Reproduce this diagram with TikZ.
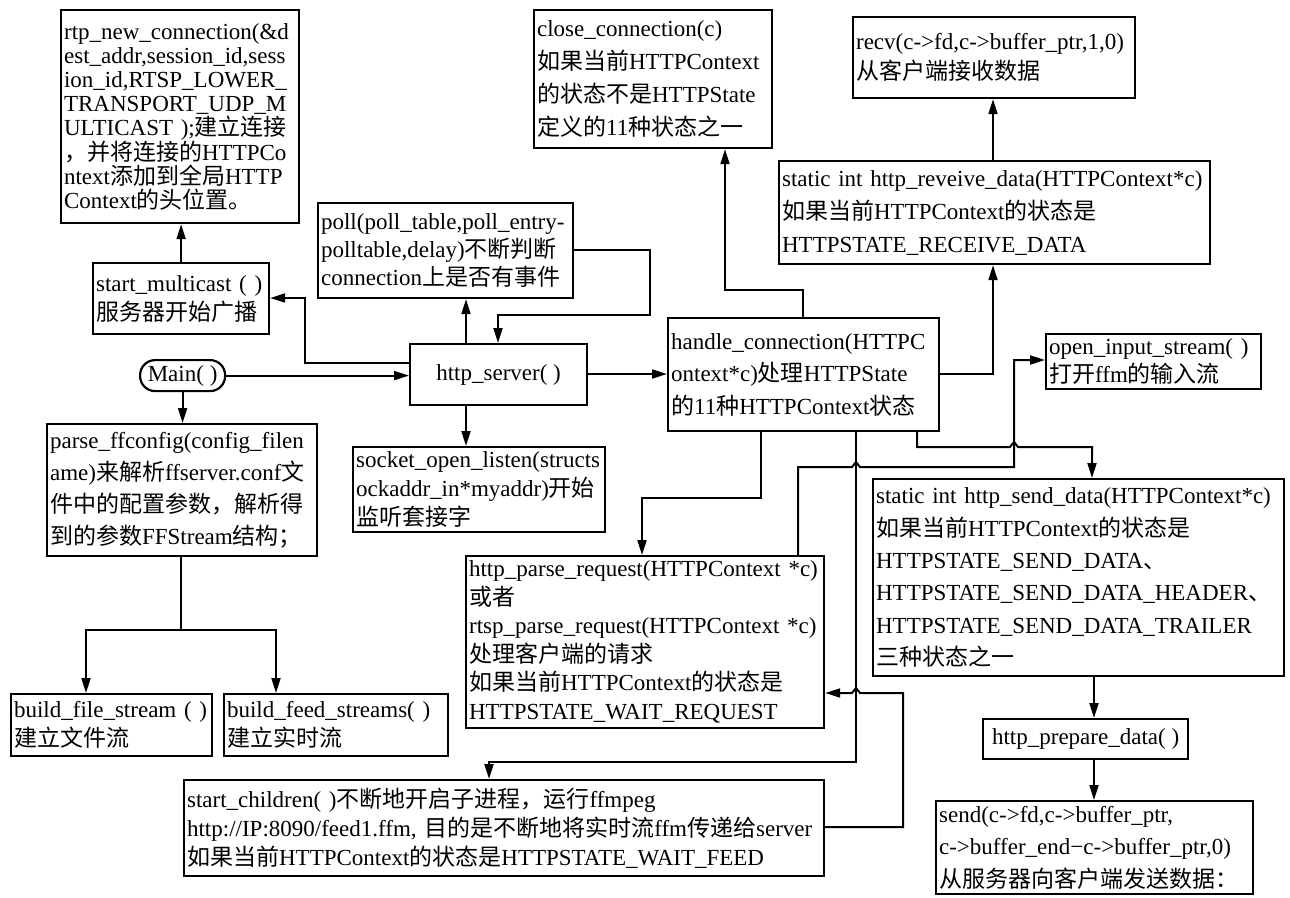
\documentclass[tikz,border=0pt]{standalone}
\usepackage{fontspec}
\setmainfont{Liberation Serif}
\newfontfamily\cjk{Noto Sans CJK SC}
\usetikzlibrary{arrows.meta}
\newcommand\zh[1]{{\cjk #1}}
\newcommand\fs[1]{\fontsize{23}{#1}\selectfont}
\begin{document}
\begin{tikzpicture}[x=1pt,y=-1pt,
 box/.style={draw, line width=2.2pt, anchor=north west, inner xsep=3pt, inner ysep=1pt, align=left},
 cbox/.style={draw, line width=2.2pt, anchor=north west, inner sep=1pt, align=center, font=\fs{24}},
 arr/.style={line width=2pt, -{Triangle[length=15pt,width=9pt]}},
 ln/.style={line width=2pt}]
\fill[white] (0,0) rectangle (1290,897);
\useasboundingbox (0,0) rectangle (1290,897);

% ---------- boxes ----------
\node[box, text width=232pt, minimum height=213pt, font=\fs{24}] (rtp) at (60,9)
 {rtp\_new\_connection(\&d\\est\_addr,session\_id,sess\\ion\_id,RTSP\_LOWER\_\\TRANSPORT\_UDP\_M\\ULTICAST~);\zh{建立连接}\\\zh{，并将连接的}HTTPCo\\ntext\zh{添加到全局}HTTP\\Context\zh{的头位置。}};

\node[box, text width=232pt, minimum height=138pt, font=\fs{33}] (close) at (533,9)
 {close\_connection(c)\\\zh{如果当前}HTTPContext\\\zh{的状态不是}HTTPState\\\zh{定义的}11\zh{种状态之一}};

\node[box, text width=276pt, minimum height=81pt, font=\fs{30}] (recv) at (852,16)
 {recv(c->fd,c->buffer\_ptr,1,0)\\\zh{从客户端接收数据}};

\node[box, text width=425pt, minimum height=103pt, font=\fs{33}] (rcv) at (778,160)
 {static~int~http\_reveive\_data(HTTPContext*c)\\\zh{如果当前}HTTPContext\zh{的状态是}\\HTTPSTATE\_RECEIVE\_DATA};

\node[box, text width=249pt, minimum height=95pt, font=\fs{28}] (poll) at (317,202)
 {poll(poll\_table,poll\_entry-\\polltable,delay)\zh{不断判断}\\connection\zh{上是否有事件}};

\node[box, text width=170pt, minimum height=71pt, font=\fs{29}] (smc) at (92,262)
 {start\_multicast~(~)\\\zh{服务器开始广播}};

\node[cbox, rounded corners=15pt, minimum width=85pt, minimum height=31pt] (main) at (139,359) {Main(~)};

\node[cbox, minimum width=177pt, minimum height=61pt] (srv) at (409,343) {http\_server(~)};

\node[box, text width=265pt, minimum height=113pt, font=\fs{32.5}] (hc) at (667,317)
 {handle\_connection(HTTPC\\ontext*c)\zh{处理}HTTPState\\\zh{的}11\zh{种}HTTPContext\zh{状态}};

\node[box, text width=209pt, minimum height=55pt, font=\fs{28}] (open) at (1045,333)
 {open\_input\_stream(~)\\\zh{打开}ffm\zh{的输入流}};

\node[box, text width=264pt, minimum height=132pt, font=\fs{32}] (parse) at (46,423)
 {parse\_ffconfig(config\_filen\\ame)\zh{来解析}ffserver.conf\zh{文}\\\zh{件中的配置参数，解析得}\\\zh{到的参数}FFStream\zh{结构；}};

\node[box, text width=246pt, minimum height=85pt, font=\fs{29}] (sock) at (352,446)
 {socket\_open\_listen(structs\\ockaddr\_in*myaddr)\zh{开始}\\\zh{监听套接字}};

\node[box, text width=195pt, minimum height=62pt, font=\fs{29}] (bfile) at (10,693)
 {build\_file\_stream~(~)\\\zh{建立文件流}};

\node[box, text width=218pt, minimum height=62pt, font=\fs{29}] (bfeed) at (223,693)
 {build\_feed\_streams(~)\\\zh{建立实时流}};

\node[box, text width=352pt, minimum height=172pt, font=\fs{28.5}] (hpr) at (465,555)
 {http\_parse\_request(HTTPContext~*c)\\\zh{或者}\\rtsp\_parse\_request(HTTPContext~*c)\\\zh{处理客户端的请求}\\\zh{如果当前}HTTPContext\zh{的状态是}\\HTTPSTATE\_WAIT\_REQUEST};

\node[box, text width=405pt, minimum height=197pt, font=\fs{32.3}] (hsd) at (872,478)
 {static~int~http\_send\_data(HTTPContext*c)\\\zh{如果当前}HTTPContext\zh{的状态是}\\HTTPSTATE\_SEND\_DATA\zh{、}\\HTTPSTATE\_SEND\_DATA\_HEADER\zh{、}\\HTTPSTATE\_SEND\_DATA\_TRAILER\\\zh{三种状态之一}};

\node[cbox, minimum width=205pt, minimum height=40pt] (prep) at (982,718) {http\_prepare\_data(~)};

\node[box, text width=311pt, minimum height=93pt, font=\fs{32.5}] (send) at (935,800)
 {send(c->fd,c->buffer\_ptr,\\c->buffer\_end−c->buffer\_ptr,0)\\\zh{从服务器向客户端发送数据：}};

\node[box, text width=634pt, minimum height=96pt, font=\fs{29}] (sch) at (183,779)
 {start\_children(~)\zh{不断地开启子进程，运行}ffmpeg\\http://IP:8090/feed1.ffm,~\zh{目的是不断地将实时流}ffm\zh{传递给}server\\\zh{如果当前}HTTPContext\zh{的状态是}HTTPSTATE\_WAIT\_FEED};

% ---------- connectors ----------
\draw[arr] (smc.north) -- (smc.north |- rtp.south);
\draw[arr] (srv.west |- 0,363) -- (305,363) -- (305,298) -- (smc.east |- 0,298);
\draw[arr] (main.east) -- (main.east -| srv.west);
\draw[arr] (main.south) -- (main.south |- parse.north);
\draw[arr] (466,0 |- srv.north) -- (466,0 |- poll.south);
\draw[arr] (poll.east |- 0,250) -- (650,250) -- (650,315) -- (498,315) -- (498,0 |- srv.north);
\draw[arr] (466,0 |- srv.south) -- (466,0 |- sock.north);
\draw[arr] (srv.east |- 0,374) -- (hc.west |- 0,374);
\draw[arr] (803,0 |- hc.north) -- (803,290) -- (725,290) -- (725,0 |- close.south);
\draw[arr] (hc.east |- 0,374) -- (993,374) -- (993,0 |- rcv.south);
\draw[arr] (993,0 |- rcv.north) -- (993,0 |- recv.south);

\coordinate (split) at (181,630);
\draw[ln] (181,0 |- parse.south) -- (split);
\draw[arr] (split) -- (86,630) -- (86,0 |- bfile.north);
\draw[arr] (split) -- (276,630) -- (276,0 |- bfeed.north);

\draw[arr] (761,0 |- hc.south) -- (761,498) -- (642,498) -- (642,0 |- hpr.north);
\draw[arr] (917,0 |- hc.south) -- (917,447) -- (1010,447) -- (1014,442) -- (1018,447) -- (1092,447) -- (1092,0 |- hsd.north);
\draw[arr] (798,0 |- hpr.north) -- (798,467) -- (852,467) -- (856,462) -- (860,467) -- (1014,467) -- (1014,360) -- (open.west |- 0,360);
\draw[arr] (856,0 |- hc.south) -- (856,762) -- (489,762) -- (489,0 |- sch.north);
\draw[arr] (sch.east |- 0,827) -- (903,827) -- (903,693) -- (860,693) -- (856,688) -- (852,693) -- (hpr.east |- 0,693);
\draw[arr] (1094,0 |- hsd.south) -- (1094,0 |- prep.north);
\draw[arr] (1094,0 |- prep.south) -- (1094,0 |- send.north);
\end{tikzpicture}
\end{document}
